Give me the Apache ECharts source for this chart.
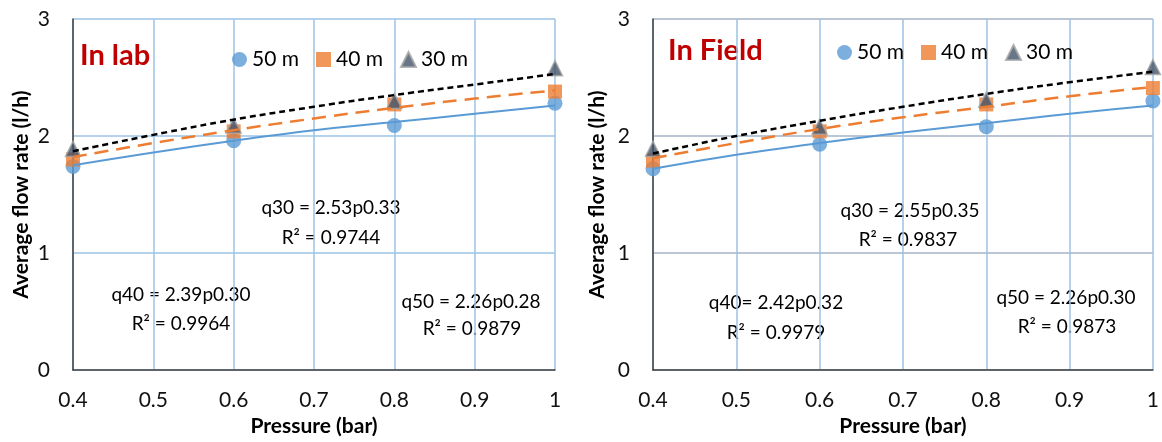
<!DOCTYPE html>
<html>
<head>
<meta charset="utf-8">
<script src="https://cdn.jsdelivr.net/npm/echarts@6/dist/echarts.min.js"></script>
<style>
  html, body { margin: 0; padding: 0; background: #fff; }
  #chart { width: 1162px; height: 442px; }
</style>
</head>
<body>
<div id="chart"></div>
<script>
// measured points (l/h) at each pressure (bar)
const pressure = [0.4, 0.6, 0.8, 1.0]
const labQ50 = [1.74, 1.96, 2.09, 2.28]
const labQ40 = [1.80, 2.04, 2.27, 2.38]
const labQ30 = [1.89, 2.09, 2.30, 2.58]
const fieldQ50 = [1.72, 1.93, 2.08, 2.30]
const fieldQ40 = [1.79, 2.04, 2.27, 2.41]
const fieldQ30 = [1.89, 2.08, 2.31, 2.59]

// trend lines
const trendP = [0.4, 0.5, 0.6, 0.7, 0.8, 0.9, 1.0]
const labFit50 = [1.75, 1.86, 1.96, 2.05, 2.12, 2.19, 2.26]
const labFit40 = [1.82, 1.94, 2.05, 2.15, 2.24, 2.32, 2.39]
const labFit30 = [1.87, 2.01, 2.14, 2.25, 2.35, 2.44, 2.53]
const fieldFit50 = [1.72, 1.84, 1.94, 2.03, 2.11, 2.19, 2.26]
const fieldFit40 = [1.81, 1.94, 2.06, 2.16, 2.25, 2.34, 2.42]
const fieldFit30 = [1.85, 2.00, 2.13, 2.25, 2.36, 2.46, 2.55]

const names = ['50 m', '40 m', '30 m']
const yTicks = [0, 1, 2, 3]

const font = 'Lato, "Open Sans", sans-serif'
const blue = '#5B9BD5', orange = '#ED7D31', slate = '#44546A'

const pair = (xs, ys) => xs.map((x, i) => [x, ys[i]])

let chart = echarts.init(document.getElementById('chart'))

function axes(idx, hColor, yGap) {
  const x = {
    type: 'value', gridIndex: idx, min: 0.4, max: 1, interval: 0.1,
    name: 'Pressure (bar)', nameLocation: 'middle', nameGap: 43,
    nameTextStyle: { fontFamily: font, fontSize: 21, fontWeight: 'bold', color: '#000' },
    axisLine: { lineStyle: { color: '#404040', width: 1.5 } },
    axisTick: { show: false },
    axisLabel: { fontFamily: font, fontSize: 21, color: '#111', margin: 20,
      formatter: v => v === 1 ? '1' : v.toFixed(1) },
    splitLine: { show: true, lineStyle: { color: '#9DC3E6', width: 1.5 } }
  }
  const y = {
    type: 'value', gridIndex: idx, min: yTicks[0], max: yTicks[yTicks.length - 1], interval: 1,
    name: 'Average flow rate (l/h)', nameLocation: 'middle', nameGap: yGap,
    nameTextStyle: { fontFamily: font, fontSize: 21, fontWeight: 'bold', color: '#000' },
    axisLine: { show: true, lineStyle: { color: '#404040', width: 1.5 } },
    axisTick: { show: false },
    axisLabel: { fontFamily: font, fontSize: 21, color: '#111', margin: 23 },
    splitLine: { show: true, lineStyle: { color: hColor, width: 1.5 } }
  }
  return [x, y]
}

function seriesFor(idx, pts, fits) {
  const symbols = ['circle', 'rect', 'triangle']
  const colors = [blue, orange, slate]
  const sizes = [15, 14, 15]
  const lineStyles = [
    { color: blue, width: 2, type: 'solid' },
    { color: orange, width: 2.5, type: [14, 8] },
    { color: '#000', width: 2.5, type: [6, 4] }
  ]
  const out = []
  pts.forEach((ys, i) => {
    out.push({
      name: names[i], type: 'scatter', xAxisIndex: idx, yAxisIndex: idx,
      symbol: symbols[i], symbolSize: sizes[i],
      itemStyle: i === 2 ? { color: colors[i], borderColor: '#A5A5A5', borderWidth: 1.5 } : { color: colors[i] },
      data: pair(pressure, ys), z: 2
    })
  })
  fits.forEach((ys, i) => {
    out.push({
      type: 'line', xAxisIndex: idx, yAxisIndex: idx, smooth: true,
      showSymbol: false, symbol: 'none', silent: true,
      lineStyle: lineStyles[i], data: pair(trendP, ys), z: 3
    })
  })
  return out
}

const [x0, y0] = axes(0, '#9DC3E6', 41)
const [x1, y1] = axes(1, '#A3B3C6', 45)

function label(x, y, text) {
  return { type: 'text', x: x, y: y, style: {
    text, fontFamily: font, fontSize: 19, fill: '#000', align: 'center', verticalAlign: 'middle'
  } }
}

function title(x, y, text) {
  return { type: 'text', x: x, y: y, style: {
    text, fontFamily: font, fontSize: 29, fontWeight: 'bold', fill: '#C00000', align: 'left', verticalAlign: 'middle'
  } }
}

const legendBase = {
  data: names, itemWidth: 15, itemHeight: 15, itemGap: 17,
  textStyle: { fontFamily: font, fontSize: 21, color: '#000' }
}

chart.setOption({
  animation: false,
  grid: [
    { left: 73, right: 607, top: 19, bottom: 68 },
    { left: 653, right: 5, top: 19, bottom: 69 }
  ],
  xAxis: [x0, x1],
  yAxis: [y0, y1],
  legend: [
    Object.assign({}, legendBase, { left: 227, top: 44 }),
    Object.assign({}, legendBase, { left: 832, top: 37 })
  ],
  series: seriesFor(0, [labQ50, labQ40, labQ30], [labFit50, labFit40, labFit30])
    .concat(seriesFor(1, [fieldQ50, fieldQ40, fieldQ30], [fieldFit50, fieldFit40, fieldFit30])),
  graphic: [
    title(80, 56, 'In lab'),
    title(668, 51, 'In Field'),
    label(331, 208, 'q30 = 2.53p0.33'),
    label(331, 238, 'R² = 0.9744'),
    label(181, 295, 'q40 = 2.39p0.30'),
    label(181, 324, 'R² = 0.9964'),
    label(471, 302, 'q50 = 2.26p0.28'),
    label(472, 329, 'R² = 0.9879'),
    label(910, 211, 'q30 = 2.55p0.35'),
    label(908, 240, 'R² = 0.9837'),
    label(776, 303, 'q40= 2.42p0.32'),
    label(776, 333, 'R² = 0.9979'),
    label(1066, 298, 'q50 = 2.26p0.30'),
    label(1067, 327, 'R² = 0.9873')
  ]
})
</script>
</body>
</html>
